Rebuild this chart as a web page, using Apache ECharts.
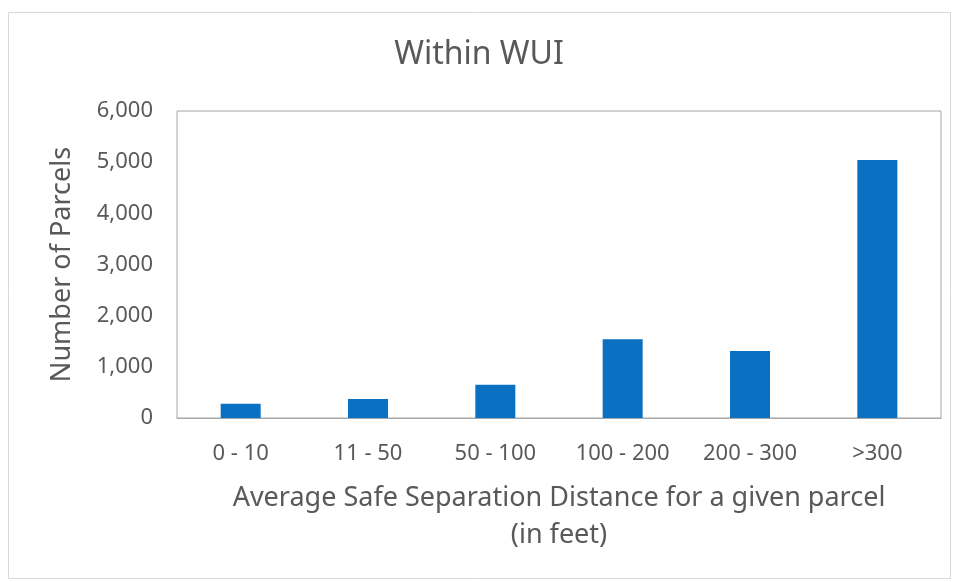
<!DOCTYPE html>
<html>
<head>
<meta charset="utf-8">
<script src="https://cdn.jsdelivr.net/npm/echarts@6/dist/echarts.min.js"></script>
<style>
html,body{margin:0;padding:0;background:#fff;}
#c{width:958px;height:582px;}
</style>
</head>
<body>
<div id="c"></div>
<script>
var categories = ['0 - 10', '11 - 50', '50 - 100', '100 - 200', '200 - 300', '>300'];
var parcels = [280, 370, 650, 1540, 1310, 5040];
var yTicks = [0, 1000, 2000, 3000, 4000, 5000, 6000];

var FONT = '"Noto Sans", sans-serif';
var chart = echarts.init(document.getElementById('c'), null, {renderer: 'canvas'});
chart.setOption({
  backgroundColor: '#fff',
  animation: false,
  title: {
    text: 'Within WUI',
    left: 'center',
    top: 34,
    textStyle: {fontFamily: FONT, fontSize: 32, fontWeight: 'normal', color: '#595959'}
  },
  graphic: [{
    type: 'rect',
    shape: {x: 8.5, y: 12.5, width: 942, height: 566},
    style: {fill: 'none', stroke: '#d9d9d9', lineWidth: 1},
    z: -1
  }],
  grid: {
    left: 177, right: 17, top: 111, bottom: 164,
    show: true, borderColor: '#a6a6a6', borderWidth: 1, backgroundColor: 'transparent'
  },
  xAxis: {
    type: 'category',
    data: categories,
    name: 'Average Safe Separation Distance for a given parcel\n(in feet)',
    nameLocation: 'middle',
    nameGap: 62,
    nameTextStyle: {fontFamily: FONT, fontSize: 27, color: '#595959', lineHeight: 37, verticalAlign: 'top'},
    axisLine: {show: true, lineStyle: {color: '#a6a6a6'}},
    axisTick: {show: false},
    axisLabel: {fontFamily: FONT, fontSize: 22, color: '#595959', margin: 25, interval: 0}
  },
  yAxis: {
    type: 'value',
    min: yTicks[0],
    max: yTicks[yTicks.length - 1],
    interval: 1000,
    name: 'Number of Parcels',
    nameLocation: 'middle',
    nameGap: 101,
    nameTextStyle: {fontFamily: FONT, fontSize: 27, color: '#595959'},
    axisLine: {show: false},
    axisTick: {show: false},
    splitLine: {show: false},
    axisLabel: {
      fontFamily: FONT, fontSize: 22, color: '#595959', margin: 24,
      formatter: function (v) { return v.toLocaleString('en-US'); }
    }
  },
  series: [{
    type: 'bar',
    data: parcels,
    barWidth: 40,
    itemStyle: {color: '#0a70c2'}
  }]
});
</script>
</body>
</html>
